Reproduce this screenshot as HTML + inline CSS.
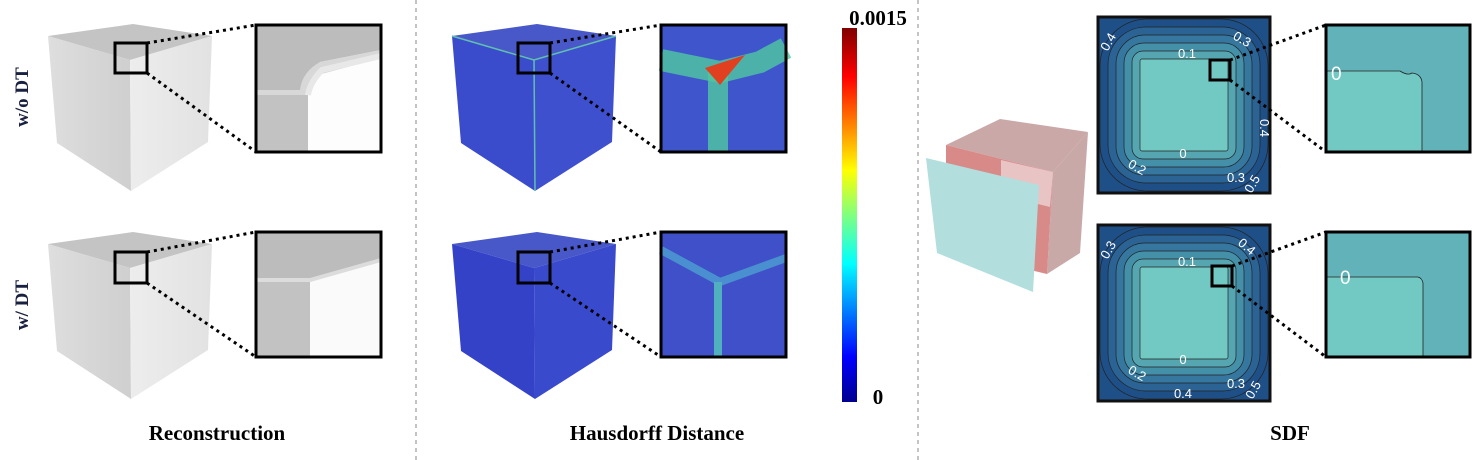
<!DOCTYPE html>
<html><head><meta charset="utf-8"><style>
html,body{margin:0;padding:0;background:#fff;}
svg{display:block;}
text{font-family:"Liberation Serif",serif;font-weight:bold;}
</style></head><body>
<svg width="1484" height="460" viewBox="0 0 1484 460">
<defs>
<linearGradient id="cbar" x1="0" y1="1" x2="0" y2="0">
<stop offset="0" stop-color="#00008f"/><stop offset="0.12" stop-color="#0000ff"/><stop offset="0.37" stop-color="#00ffff"/><stop offset="0.5" stop-color="#80ff80"/><stop offset="0.62" stop-color="#ffff00"/><stop offset="0.87" stop-color="#ff0000"/><stop offset="1" stop-color="#800000"/>
</linearGradient>
<linearGradient id="gl" x1="0" y1="0" x2="1" y2="0"><stop offset="0" stop-color="#dedede"/><stop offset="1" stop-color="#cfcfcf"/></linearGradient>
<linearGradient id="gr" x1="0" y1="0" x2="1" y2="0"><stop offset="0" stop-color="#ededed"/><stop offset="1" stop-color="#e2e2e2"/></linearGradient>
</defs>

<line x1="416" y1="0" x2="416" y2="460" stroke="#888" stroke-dasharray="4,4"/>
<line x1="918" y1="0" x2="918" y2="460" stroke="#888" stroke-dasharray="4,4"/>

<text transform="translate(28,97) rotate(-90)" text-anchor="middle" font-size="19" fill="#1a2040">w/o DT</text>
<text transform="translate(28,305) rotate(-90)" text-anchor="middle" font-size="19" fill="#1a2040">w/ DT</text>

<g>
<polygon points="48,36 133,24 212,36 130,60" fill="#c4c4c4"/>
<polygon points="48,36 130,60 131,191 57,143" fill="url(#gl)"/>
<polygon points="130,60 212,36 208,142 131,191" fill="url(#gr)"/>
</g>
<g transform="translate(0,208)">
<polygon points="48,36 133,24 212,36 130,60" fill="#c4c4c4"/>
<polygon points="48,36 130,60 131,191 57,143" fill="url(#gl)"/>
<polygon points="130,60 212,36 208,142 131,191" fill="url(#gr)"/>
</g>
<g>
<rect x="256" y="25" width="125" height="127" fill="#fdfdfd"/>
<polygon points="256,25 381,25 381,50 320,62 300,90 256,90" fill="#bcbcbc"/>
<path d="M256,100 L300,100 Q312,90 318,75 L381,58 L381,50 L320,62 Q302,72 300,90 L256,90Z" fill="#d8d8d8"/>
<rect x="256" y="95" width="52" height="57" fill="#c2c2c2"/>
<path d="M308,95 Q310,82 322,70 L381,56" stroke="#e8e8e8" stroke-width="6" fill="none"/>
<rect x="256" y="25" width="125" height="127" fill="none" stroke="#000" stroke-width="3"/>
</g>
<g>
<rect x="256" y="232" width="125" height="125" fill="#fafafa"/>
<polygon points="256,232 381,232 381,258 318,278 256,278" fill="#bcbcbc"/>
<rect x="256" y="280" width="54" height="77" fill="#c2c2c2"/>
<path d="M256,280 L310,280 L381,260" stroke="#dcdcdc" stroke-width="4" fill="none"/>
<rect x="256" y="232" width="125" height="125" fill="none" stroke="#000" stroke-width="3"/>
</g>
<g fill="none" stroke="#000">
<rect x="115" y="43" width="32" height="30" stroke-width="3"/>
<rect x="115" y="252" width="32" height="31" stroke-width="3"/>
<g stroke-width="3" stroke-dasharray="3,4">
<line x1="147" y1="43" x2="256" y2="25"/><line x1="147" y1="73" x2="256" y2="152"/>
<line x1="147" y1="252" x2="256" y2="232"/><line x1="147" y1="283" x2="256" y2="357"/>
</g></g>

<g transform="translate(404,0)">
<polygon points="48,36 133,24 212,36 130,60" fill="#4858c8"/>
<polygon points="48,36 130,60 131,191 57,143" fill="#3a4ccc"/>
<polygon points="130,60 212,36 208,142 131,191" fill="#3f50cf"/>
<polyline points="48,36 130,60 212,36" stroke="#60c0b0" stroke-width="1.5" fill="none"/>
<line x1="130" y1="60" x2="131" y2="191" stroke="#60c0b0" stroke-width="1.5"/>
</g>
<g transform="translate(404,208)">
<polygon points="48,36 133,24 212,36 130,60" fill="#4858c8"/>
<polygon points="48,36 130,60 131,191 57,143" fill="#3442c8"/>
<polygon points="130,60 212,36 208,142 131,191" fill="#3a4acc"/>
</g>
<g>
<rect x="661" y="25" width="125" height="127" fill="#3f55cc"/>
<path d="M661,60 L720,72 L760,62 L786,48" stroke="#50c8a0" stroke-width="22" fill="none" opacity="0.8"/>
<line x1="718" y1="72" x2="718" y2="152" stroke="#50c8a0" stroke-width="20" opacity="0.8"/>
<polygon points="705,68 745,55 720,85" fill="#e04020"/>
<rect x="661" y="25" width="125" height="127" fill="none" stroke="#000" stroke-width="3"/>
</g>
<g>
<rect x="661" y="232" width="125" height="125" fill="#3f50c8"/>
<path d="M661,250 L720,282 L786,258" stroke="#4a90d0" stroke-width="8" fill="none"/>
<line x1="718" y1="282" x2="718" y2="357" stroke="#50b0c0" stroke-width="8"/>
<rect x="661" y="232" width="125" height="125" fill="none" stroke="#000" stroke-width="3"/>
</g>
<g fill="none" stroke="#000">
<rect x="518" y="43" width="32" height="30" stroke-width="3"/>
<rect x="518" y="252" width="32" height="31" stroke-width="3"/>
<g stroke-width="3" stroke-dasharray="3,4">
<line x1="550" y1="43" x2="661" y2="25"/><line x1="550" y1="73" x2="661" y2="152"/>
<line x1="550" y1="252" x2="661" y2="232"/><line x1="550" y1="283" x2="661" y2="357"/>
</g></g>
<rect x="842" y="28" width="15" height="374" fill="url(#cbar)"/>
<text x="878" y="25" text-anchor="middle" font-size="21" fill="#000">0.0015</text>
<text x="878" y="404" text-anchor="middle" font-size="21" fill="#000">0</text>

<g>
<polygon points="946,145 1000,119 1088,132 1053,172" fill="#caa8a8"/>
<polygon points="1053,172 1088,132 1080,253 1047,274" fill="#c9a8a8"/>
<polygon points="946,145 1053,172 1047,274 946,250" fill="#d88a88"/>
<polygon points="1001,160 1053,172 1050,207 1001,195" fill="#e8c4c4"/>
<polygon points="926,158 1039,185 1033,292 937,253" fill="#b2dedd"/>
</g>

<g id="contour1"></g>
<g id="contour2"></g>

<g>
<rect x="1326" y="25" width="144" height="127" fill="#62b3b9"/>
<path d="M1326,71 L1400,71 Q1408,76 1412,73 Q1421,74 1422,82 L1422,152 L1326,152Z" fill="#72c8c2" stroke="#222" stroke-width="0.8"/>
<text x="1331" y="80" font-size="19" fill="#fff" style="font-family:'Liberation Sans',sans-serif;font-weight:normal">0</text>
<rect x="1326" y="25" width="144" height="127" fill="none" stroke="#000" stroke-width="3"/>
</g>
<g>
<rect x="1326" y="232" width="144" height="125" fill="#62b3b9"/>
<path d="M1326,277 L1418,277 Q1422,278 1423,283 L1423,357 L1326,357Z" fill="#72c8c2" stroke="#222" stroke-width="0.8"/>
<text x="1340" y="284" font-size="19" fill="#fff" style="font-family:'Liberation Sans',sans-serif;font-weight:normal">0</text>
<rect x="1326" y="232" width="144" height="125" fill="none" stroke="#000" stroke-width="3"/>
</g>
<g fill="none" stroke="#000">
<rect x="1210" y="60" width="20" height="20" stroke-width="3"/>
<rect x="1212" y="266" width="20" height="20" stroke-width="3"/>
<g stroke-width="3" stroke-dasharray="3,4">
<line x1="1230" y1="60" x2="1326" y2="25"/><line x1="1230" y1="80" x2="1326" y2="152"/>
<line x1="1232" y1="266" x2="1326" y2="232"/><line x1="1232" y1="286" x2="1326" y2="357"/>
</g></g>

<text x="217" y="440" text-anchor="middle" font-size="21" fill="#000">Reconstruction</text>
<text x="657" y="440" text-anchor="middle" font-size="21" fill="#000">Hausdorff Distance</text>
<text x="1290" y="440" text-anchor="middle" font-size="21" fill="#000">SDF</text>
</svg>
<script>
const levels=[0.5,0.4,0.3,0.2,0.1,0];
const levelColors=['#1e4f86','#2a6394','#35779f','#4590a9','#56a6b1','#72c8c2'];
const labelsTop=[['0.4',1112,44,-60],['0.3',1240,43,30],['0.1',1187,58,0],['0',1183,158,0],['0.2',1135,171,30],['0.3',1236,182,0],['0.4',1260,128,90],['0.5',1256,186,-60]];
const labelsBot=[['0.3',1112,252,-60],['0.4',1244,250,40],['0.1',1187,266,0],['0',1183,364,0],['0.2',1135,377,30],['0.3',1236,388,0],['0.4',1183,398,0],['0.5',1257,392,-60]];
const NS='http://www.w3.org/2000/svg';
function draw(g,x0,y0,labs){
  const bg=document.createElementNS(NS,'rect');
  bg.setAttribute('x',x0);bg.setAttribute('y',y0);bg.setAttribute('width',172);bg.setAttribute('height',176);
  bg.setAttribute('fill',levelColors[0]);bg.setAttribute('stroke','#111');bg.setAttribute('stroke-width',3);
  
  
  g.appendChild(bg);
  levels.forEach((v,i)=>{
    const inset=42-v*80;
    const r=document.createElementNS(NS,'rect');
    r.setAttribute('x',x0+inset);r.setAttribute('y',y0+inset);
    r.setAttribute('width',172-2*inset);r.setAttribute('height',176-2*inset);
    const rad=2+v*90;
    r.setAttribute('rx',rad);r.setAttribute('ry',rad);
    r.setAttribute('fill',levelColors[i]);r.setAttribute('stroke','#222');r.setAttribute('stroke-width',0.7);
    
    
    g.appendChild(r);
  });
  labs.forEach(l=>{
    const t=document.createElementNS(NS,'text');
    t.textContent=l[0];
    t.setAttribute('x',l[1]);t.setAttribute('y',l[2]);
    t.setAttribute('transform','rotate('+l[3]+' '+l[1]+' '+l[2]+')');
    t.setAttribute('text-anchor','middle');t.setAttribute('font-size','13');t.setAttribute('fill','#fff');
    t.setAttribute('style',"font-family:'Liberation Sans',sans-serif;font-weight:normal");
    
    
    g.appendChild(t);
  });
}
draw(document.getElementById('contour1'),1098,17,labelsTop);
draw(document.getElementById('contour2'),1098,225,labelsBot);
</script>
</body></html>
